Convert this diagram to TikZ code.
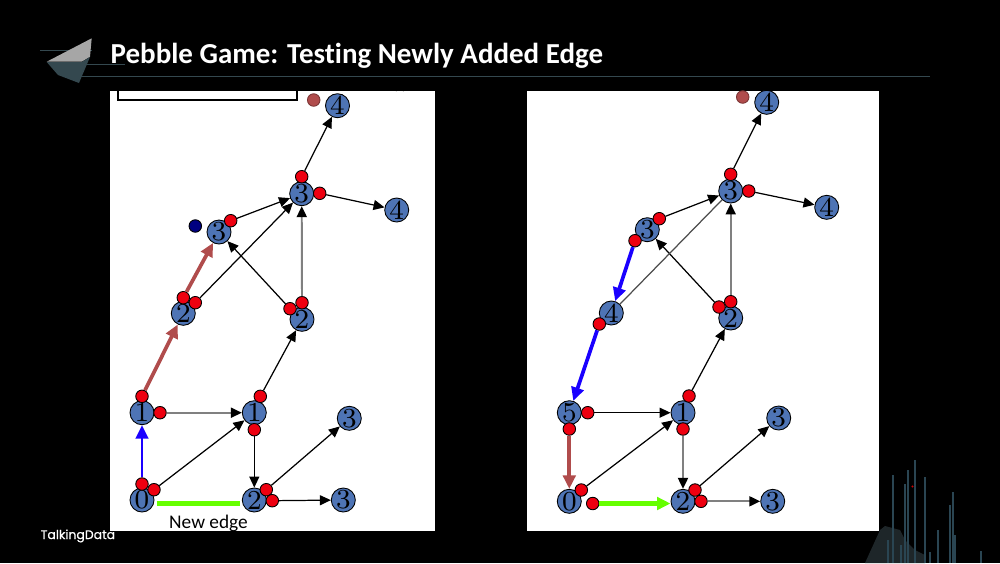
\documentclass[tikz,border=0pt]{standalone}
\usepackage{fontspec}
\setmainfont[Ligatures=NoCommon]{Carlito}
\newfontfamily\logofont[FakeBold=0.5]{Poppins}
\newfontfamily\digitfont{Latin Modern Roman}
\usetikzlibrary{arrows.meta}
\definecolor{vertexblue}{HTML}{4E74B5}
\definecolor{pebblered}{HTML}{EE0010}
\definecolor{brownedge}{HTML}{B04C4C}
\definecolor{blueedge}{HTML}{1A00FF}
\definecolor{greenedge}{HTML}{66FF00}
\definecolor{rulegray}{HTML}{808080}
\definecolor{headerteal}{HTML}{34484F}
\definecolor{streak}{HTML}{2A4552}
\definecolor{mound}{HTML}{1E2629}
\tikzset{
  vertex/.style={circle,draw=black,line width=0.25pt,fill=vertexblue,minimum size=0.24cm,
    inner sep=0pt,font=\digitfont\fontsize{7.8}{8}\selectfont},
  pebble/.style={circle,draw=black,line width=0.25pt,fill=pebblered,minimum size=0.125cm,inner sep=0pt},
  thinedge/.style={-{Triangle[length=0.11cm,width=0.1cm]},line width=0.35pt,black},
  grayedge/.style={-{Triangle[length=0.11cm,width=0.1cm,color=black]},line width=0.55pt,rulegray},
  fatedge/.style={-{Triangle[length=0.135cm,width=0.125cm]},line width=1.05pt}
}
\begin{document}
\begin{tikzpicture}[x=0.01cm,y=-0.01cm]
\useasboundingbox (0,0) rectangle (1000,563);
\fill[black] (0,0) rectangle (1000,563);
% header
\draw[headerteal,line width=0.3pt] (80,76.5) -- (930,76.5);
\draw[headerteal,line width=0.25pt] (40,50) -- (92,50);
\draw[headerteal,line width=0.25pt] (50,64) -- (125,64);
\fill[gray!70!white] (46.7,61.7) -- (91.7,38.3) -- (90,56.7) -- (81.7,61.7) -- cycle;
\fill[headerteal] (46.7,62) -- (81.7,62) -- (90,57) -- (79,83) -- (58,75) -- cycle;
\node[anchor=base west,inner sep=0pt,text=white,font=\bfseries\fontsize{8.24}{10}\selectfont] (title) at (110,63.5)
  {Pebble Game: Testing Newly Added Edge};
% footer
\node[anchor=base west,inner sep=0pt,text=white,font=\logofont\fontsize{3.55}{4}\selectfont] (logo) at (40,539) {TalkingData};
\fill[mound] (865,563) -- (880,530) -- (885,526) -- (900,530) -- (905,540) -- (915,550) -- (925,555) -- (925,563) -- cycle;
\foreach \x/\y in {893/475,908/470,905/484,915/460,925/477,953/492,950/505,938/530,955/535,981/551,930/552,888/540,901/545}{
  \draw[streak,line width=0.3pt] (\x,\y) -- (\x,563);
}
\fill[red!80!black] (912.5,486.5) circle (0.012cm);
% panels
\fill[white] (110,91) rectangle (435,531);
\fill[white] (527,91) rectangle (879,531);
\draw[black,line width=0.3pt] (118,91) -- (118,100) -- (297,100) -- (297,91);
\draw[black,line width=0.3pt] (396,91) arc[start angle=200,end angle=340,radius=4];
% left vertices
\foreach \name/\x/\y/\lab in {la/337.5/105.7/4,lb/301.7/193.7/3,lc/396.7/210/4,ld/219/232/3,le/183.3/313.3/2,
  lf/302/319.3/2,lg/142/412.7/1,lh/254.3/412.7/1,li/349.3/418.3/3,lj/142/500/0,lk/254.3/500/2,ll/343.3/500/3}{
  \node[vertex] (\name) at (\x,\y) {\lab};
}
% left pebbles
\foreach \name/\x/\y in {lpa/301.7/176.7,lpb/319.7/193.3,lpc/230.7/220.7,lpd/183.3/297.7,lpe/195.3/302.7,
  lpf/290/308.7,lpg/302/302.7,lph/142/396.3,lpi/160/412.7,lpj/260.3/396.3,lpk/254.3/429.7,lpl/142/484,
  lpm/154/489.7,lpn/266.3/489.7,lpo/272.3/500.7}{
  \node[pebble] (\name) at (\x,\y) {};
}
\node[pebble,fill=blue!50!black] (lnavy) at (195.3,226) {};
\node[pebble,fill=brownedge,draw=brownedge!70!black] (lbrown) at (313.7,100) {};
% left edges
\foreach \a/\b in {lpa/la,lpb/lc,lpc/lb,lpe/lb,lpf/ld,lpj/lf,lpm/lh,lpk/lk,lpn/li,lpo/ll}{
  \draw[thinedge] (\a) -- (\b);
}
\foreach \a/\b in {lpg/lb,lpi/lh}{
  \draw[grayedge] (\a) -- (\b);
}
\draw[fatedge,brownedge] (lpd) -- (ld);
\draw[fatedge,brownedge] (lph) -- (le);
\draw[fatedge,blueedge,line width=0.85pt] (lpl) -- (lg);
\coordinate (lnewa) at (156.5,503.3);
\coordinate (lnewb) at (240,503.3);
\draw[greenedge,line width=1.3pt] (lnewa) -- (lnewb);
\node[anchor=base,inner sep=0pt,font=\fontsize{5.5}{7}\selectfont] (lnew) at (208.5,528.5) {New edge};
% right vertices
\foreach \name/\x/\y/\lab in {ra/766.7/102.3/4,rb/730.7/191/3,rc/826.7/207.3/4,rd/647.3/229.7/3,re/611.3/313/4,
  rf/730.7/318/2,rg/569.3/412.7/5,rh/683/412.7/1,ri/778.7/418/3,rj/569.3/501.3/0,rk/683/501.3/2,rl/772.7/501.3/3}{
  \node[vertex] (\name) at (\x,\y) {\lab};
}
% right pebbles
\foreach \name/\x/\y in {rpa/730.7/174.3,rpb/748.7/191,rpc/659.3/218.7,rpd/635/240.7,rpe/719/307,rpf/730.7/301.7,
  rpg/599.3/324,rph/689/396,rpi/587.7/412.7,rpj/569.3/429,rpk/683/429,rpl/581.3/490,rpm/592.7/503.5,
  rpn/695/490,rpo/701/501.3}{
  \node[pebble] (\name) at (\x,\y) {};
}
\node[pebble,fill=brownedge,draw=brownedge!70!black] (rbrown) at (742.7,97) {};
% right edges
\foreach \a/\b in {rpa/ra,rpb/rc,rpc/rb,rpe/rd,rph/rf,rpi/rh,rpl/rh,rpn/ri}{
  \draw[thinedge] (\a) -- (\b);
}
\foreach \a/\b in {rpf/rb,rpk/rk,rpo/rl}{
  \draw[grayedge] (\a) -- (\b);
}
\draw[rulegray!60!black,line width=0.35pt] (re) -- (rb);
\draw[fatedge,blueedge] (rpd) -- (re);
\draw[fatedge,blueedge] (rpg) -- (rg);
\draw[fatedge,brownedge] (rpj) -- (rj);
\coordinate (rnewb) at (670.5,503.5);
\draw[-{Triangle[length=0.135cm,width=0.125cm]},greenedge,line width=1.4pt] (rpm) -- (rnewb);
\end{tikzpicture}
\end{document}
